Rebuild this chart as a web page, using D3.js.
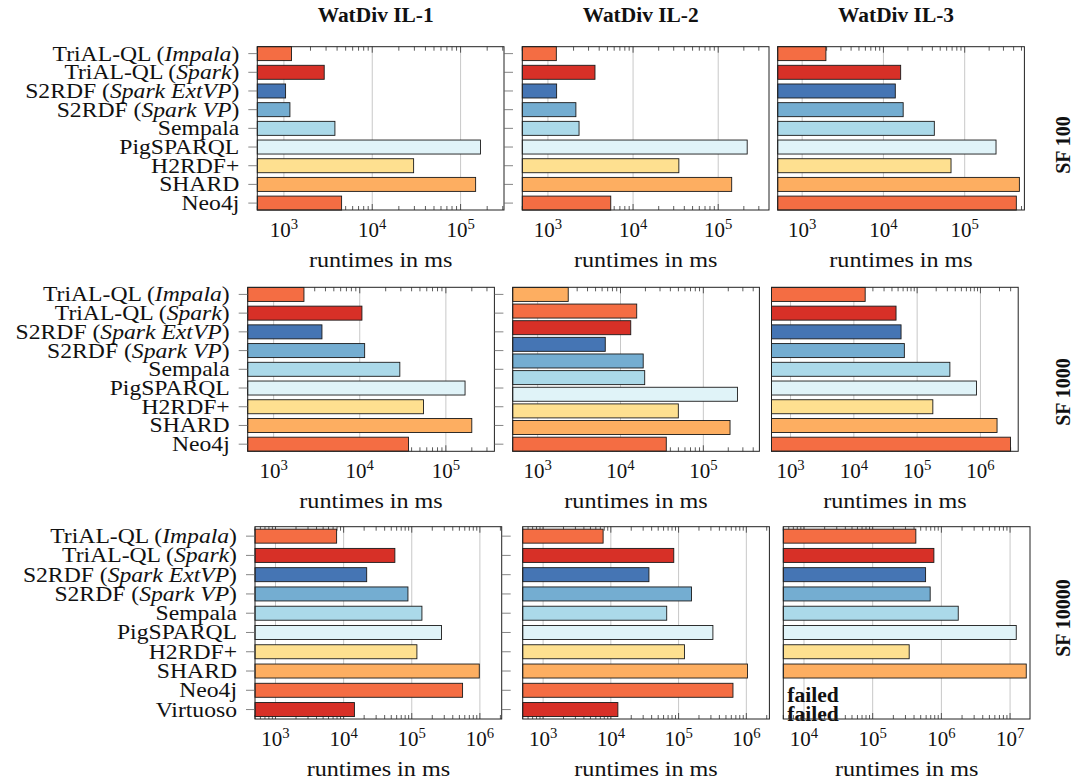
<!DOCTYPE html>
<html>
<head>
<meta charset="utf-8">
<script src="https://cdn.jsdelivr.net/npm/d3@7"></script>
<style>
  body { margin: 0; background: #fff; }
  svg { display: block; }
  text { font-family: "Liberation Serif", "DejaVu Serif", serif; fill: #111; }
</style>
</head>
<body>
<svg width="1074" height="781"></svg>
<script>
(function () {

  // titles
  var columns = ['WatDiv IL-1', 'WatDiv IL-2', 'WatDiv IL-3']
  var scaleFactors = ['SF 100', 'SF 1000', 'SF 10000']

  // systems (y categories)
  var systems = ['TriAL-QL (Impala)', 'TriAL-QL (Spark)', 'S2RDF (Spark ExtVP)', 'S2RDF (Spark VP)',
    'Sempala', 'PigSPARQL', 'H2RDF+', 'SHARD', 'Neo4j']
  var systemsBig = systems.concat(['Virtuoso'])

  var palette = ['#f46d43', '#d73027', '#4575b4', '#74add1', '#abd9e9', '#e0f3f8', '#fee090', '#fdae61']

  // runtimes in ms (null = failed)
  var sf100IL1 = [1220, 2860, 1045, 1170, 3780, 168000, 29400, 148000, 4500]
  var sf100IL2 = [1255, 3570, 1265, 2130, 2320, 219000, 34500, 144000, 5470]
  var sf100IL3 = [1960, 16300, 14000, 17500, 42300, 243000, 67900, 471000, 432000]
  var sf1000IL1 = [2250, 10600, 3640, 11400, 29200, 167000, 55000, 200000, 36800]
  // this one has ten bars in the original figure
  var sf1000IL2 = [2340, 15700, 13300, 6550, 18800, 19600, 258000, 49900, 210000, 35700]
  var sf1000IL3 = [15100, 46400, 55700, 62800, 329000, 865000, 177000, 1830000, 2990000]
  var sf10000IL1 = [7890, 56500, 21800, 87900, 141000, 273000, 119000, 980000, 557000, 14400]
  var sf10000IL2 = [7690, 84900, 36500, 155000, 66800, 321000, 122000, 1040000, 635000, 12700]
  var sf10000IL3 = [425000, 778000, 589000, 687000, 1760000, 12300000, 340000, 17200000, null, null]

  // x axis limits per panel
  var xMins = [500, 500, 500, 500, 500, 500, 500, 500, 5000]
  var xMaxs = [310000, 395000, 543000, 366000, 475000, 3950000, 2090000, 2190000, 19500000]

  var panels = [
    { row: 0, col: 0, values: sf100IL1, labels: systems, colorStart: 0 },
    { row: 0, col: 1, values: sf100IL2, labels: systems, colorStart: 0 },
    { row: 0, col: 2, values: sf100IL3, labels: systems, colorStart: 0 },
    { row: 1, col: 0, values: sf1000IL1, labels: systems, colorStart: 0 },
    { row: 1, col: 1, values: sf1000IL2, labels: systems, colorStart: 7 },
    { row: 1, col: 2, values: sf1000IL3, labels: systems, colorStart: 0 },
    { row: 2, col: 0, values: sf10000IL1, labels: systemsBig, colorStart: 0 },
    { row: 2, col: 1, values: sf10000IL2, labels: systemsBig, colorStart: 0 },
    { row: 2, col: 2, values: sf10000IL3, labels: systemsBig, colorStart: 0 }
  ]

  // layout
  var rowBox = [
    { top: 46.7, bottom: 210, pad: 0.37, title: 145 },
    { top: 287.3, bottom: 451.3, pad: 0.38, title: 392 },
    { top: 526.7, bottom: 719, pad: 0.49, title: 618 }
  ]
  var colLeft = [[257.3, 522.3, 777.7], [247.7, 512.7, 771.5], [255, 522.7, 783.3]]
  var plotW = 246.7
  var barH = 14

  var svg = d3.select('svg')

  // serif text, stretched a bit to get closer to Computer Modern widths
  function wideText(parent, x, y, stretch) {
    return parent.append('text')
      .attr('transform', 'translate(' + x + ',' + y + ') scale(' + stretch + ',1)')
  }

  function addLabel(sel, s) {
    var m = s.match(/^(.*\()(.*)(\))$/)
    if (!m) { sel.text(s); return }
    sel.append('tspan').text(m[1])
    sel.append('tspan').attr('font-style', 'italic').text(m[2])
    sel.append('tspan').text(m[3])
  }

  panels.forEach(function (p, k) {
    var box = rowBox[p.row]
    var left = colLeft[p.row][p.col]
    var right = left + plotW
    var g = svg.append('g')

    var x = d3.scaleLog().domain([xMins[k], xMaxs[k]]).range([left, right])
    var y = d3.scalePoint().domain(d3.range(p.labels.length)).range([box.top, box.bottom]).padding(box.pad)
    var barY = d3.scaleLinear().domain([0, p.values.length - 1]).range([y(0), y(p.labels.length - 1)])

    var ticks = x.ticks().filter(function (t) { return t >= xMins[k] && t <= xMaxs[k] })
    var isMajor = function (t) { return Math.abs(Math.log10(t) - Math.round(Math.log10(t))) < 1e-9 }
    var majors = ticks.filter(isMajor)

    // grid
    g.selectAll('.grid').data(majors).enter().append('line')
      .attr('x1', d => x(d)).attr('x2', d => x(d))
      .attr('y1', box.top).attr('y2', box.bottom)
      .attr('stroke', '#c8c8c8').attr('stroke-width', 1)

    // inner ticks top and bottom
    ticks.forEach(function (t) {
      var len = isMajor(t) ? 6 : 4
      g.append('line').attr('x1', x(t)).attr('x2', x(t))
        .attr('y1', box.top).attr('y2', box.top + len)
        .attr('stroke', '#333').attr('stroke-width', 0.8)
      g.append('line').attr('x1', x(t)).attr('x2', x(t))
        .attr('y1', box.bottom).attr('y2', box.bottom - len)
        .attr('stroke', '#333').attr('stroke-width', 0.8)
    })

    // bars
    g.selectAll('.bar').data(p.values).enter()
      .filter(d => d !== null)
      .append('rect')
      .attr('x', left)
      .attr('y', (d, i) => barY(i) - barH / 2)
      .attr('width', d => x(d) - left)
      .attr('height', barH)
      .attr('fill', (d, i) => palette[(i + p.colorStart) % palette.length])
      .attr('stroke', '#1a1a1a')
      .attr('stroke-width', 0.9)

    // failed runs
    p.values.forEach(function (d, i) {
      if (d === null) {
        wideText(g, left + 4, barY(i) + 11.5, 1.08)
          .attr('font-size', 20)
          .attr('font-weight', 'bold')
          .text('failed')
      }
    })

    // frame
    g.append('rect')
      .attr('x', left).attr('y', box.top)
      .attr('width', plotW).attr('height', box.bottom - box.top)
      .attr('fill', 'none').attr('stroke', '#222').attr('stroke-width', 1)

    // tick labels 10^k
    majors.forEach(function (t) {
      var lab = wideText(g, x(t), box.bottom + 26.5, 1.05)
        .attr('text-anchor', 'middle')
        .attr('font-size', 20)
      lab.append('tspan').text('10')
      lab.append('tspan').attr('font-size', 14).attr('dy', -8).text(Math.round(Math.log10(t)))
    })

    // x axis title
    wideText(g, (left + right) / 2, box.bottom + 57, 1.15)
      .attr('text-anchor', 'middle')
      .attr('font-size', 21)
      .text('runtimes in ms')

    // first column: y ticks and system names
    if (p.col === 0) {
      p.labels.forEach(function (s, i) {
        g.append('line').attr('x1', left - 9).attr('x2', left)
          .attr('y1', y(i)).attr('y2', y(i))
          .attr('stroke', '#666').attr('stroke-width', 0.8)
        g.append('line').attr('x1', right).attr('x2', right + 9)
          .attr('y1', y(i)).attr('y2', y(i))
          .attr('stroke', '#666').attr('stroke-width', 0.8)
        var t = wideText(g, left - 18, y(i) + 7, 1.1)
          .attr('text-anchor', 'end')
          .attr('font-size', 21.5)
        addLabel(t, s)
      })
    }

    // column titles above the first row
    if (p.row === 0) {
      wideText(svg, (left + right) / 2 - 5, 22, 1.07)
        .attr('text-anchor', 'middle')
        .attr('font-size', 20).attr('font-weight', 'bold')
        .text(columns[p.col])
    }

    // row titles on the right
    if (p.col === 2) {
      svg.append('text')
        .attr('transform', 'translate(1063,' + box.title + ') rotate(-90)')
        .attr('text-anchor', 'middle')
        .attr('dominant-baseline', 'central')
        .attr('font-size', 20).attr('font-weight', 'bold')
        .text(scaleFactors[p.row])
    }
  })

})()
</script>
</body>
</html>
